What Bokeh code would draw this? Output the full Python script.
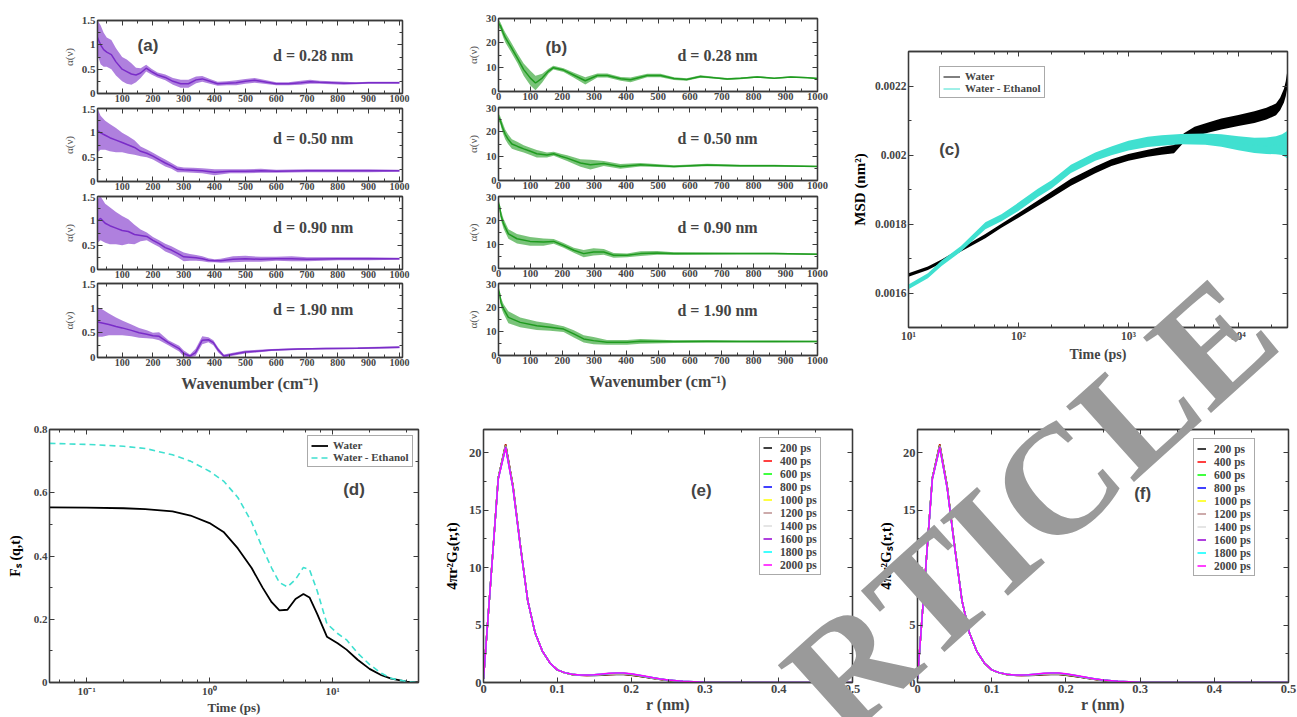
from bokeh.plotting import figure
from bokeh.layouts import row, column
from bokeh.models import (Range1d, LinearAxis, Label, Legend, LegendItem,
                          SingleIntervalTicker, LogTicker,
                          NumeralTickFormatter, CustomJSTickFormatter)
from bokeh.embed import file_html
from bokeh.resources import INLINE

SERIF = "Liberation Serif"
SANS = "Liberation Sans"
FRAME = "#3a3a3a"
PURPLE = "#7a2cc8"
GREEN = "#1f9b1f"
TURQ = "#40e0d0"

# ---------------- panel (a): alpha(nu), water ----------------
a28_x = [20, 30, 40, 50, 65, 80, 100, 115, 130, 145, 160, 178, 195, 215, 240, 265, 290, 315, 340, 360, 385, 410, 440, 470, 500, 530, 560, 600, 640, 680, 710, 740, 780, 820, 860, 900, 950, 1000]
a28_c = [1.15, 1.0, 0.9, 0.85, 0.8, 0.65, 0.5, 0.45, 0.4, 0.38, 0.42, 0.52, 0.45, 0.38, 0.33, 0.25, 0.2, 0.2, 0.28, 0.3, 0.25, 0.2, 0.21, 0.22, 0.25, 0.27, 0.24, 0.2, 0.2, 0.22, 0.24, 0.23, 0.22, 0.21, 0.21, 0.22, 0.22, 0.22]
a28_w = [0.35, 0.4, 0.35, 0.3, 0.3, 0.28, 0.25, 0.25, 0.22, 0.15, 0.1, 0.07, 0.06, 0.05, 0.06, 0.07, 0.08, 0.08, 0.07, 0.06, 0.05, 0.04, 0.04, 0.05, 0.05, 0.05, 0.04, 0.03, 0.03, 0.04, 0.04, 0.03, 0.03, 0.03, 0.02, 0.02, 0.02, 0.02]

a50_x = [20, 30, 45, 60, 80, 100, 120, 140, 160, 180, 200, 220, 240, 260, 280, 300, 330, 360, 400, 450, 500, 550, 600, 700, 800, 900, 1000]
a50_c = [1.05, 1.0, 0.95, 0.9, 0.85, 0.8, 0.75, 0.7, 0.62, 0.58, 0.52, 0.45, 0.38, 0.32, 0.25, 0.24, 0.23, 0.22, 0.19, 0.21, 0.21, 0.22, 0.21, 0.22, 0.22, 0.22, 0.22]
a50_w = [0.45, 0.35, 0.3, 0.28, 0.25, 0.2, 0.18, 0.15, 0.1, 0.08, 0.07, 0.07, 0.07, 0.06, 0.06, 0.05, 0.05, 0.05, 0.06, 0.04, 0.04, 0.04, 0.03, 0.03, 0.03, 0.03, 0.02]

a90_x = [20, 30, 45, 60, 80, 100, 120, 140, 160, 180, 200, 220, 240, 260, 280, 300, 320, 340, 360, 380, 400, 420, 460, 500, 550, 600, 650, 700, 800, 900, 1000]
a90_c = [1.0, 1.05, 0.95, 0.9, 0.85, 0.8, 0.78, 0.72, 0.7, 0.68, 0.6, 0.53, 0.45, 0.4, 0.33, 0.26, 0.25, 0.24, 0.22, 0.19, 0.18, 0.18, 0.21, 0.22, 0.21, 0.22, 0.22, 0.21, 0.22, 0.22, 0.22]
a90_w = [0.45, 0.45, 0.4, 0.38, 0.33, 0.3, 0.25, 0.2, 0.12, 0.08, 0.07, 0.07, 0.08, 0.08, 0.08, 0.09, 0.07, 0.06, 0.05, 0.04, 0.03, 0.04, 0.06, 0.06, 0.05, 0.04, 0.05, 0.04, 0.03, 0.03, 0.02]

a190_x = [20, 35, 57, 80, 100, 130, 155, 180, 200, 220, 250, 285, 300, 320, 338, 360, 380, 396, 412, 430, 455, 500, 585, 670, 760, 865, 1000]
a190_c = [0.72, 0.7, 0.67, 0.63, 0.6, 0.55, 0.5, 0.47, 0.44, 0.43, 0.3, 0.18, 0.08, 0.03, 0.1, 0.35, 0.36, 0.3, 0.15, 0.03, 0.06, 0.11, 0.15, 0.17, 0.18, 0.19, 0.21]
a190_w = [0.3, 0.28, 0.22, 0.18, 0.15, 0.12, 0.1, 0.08, 0.06, 0.08, 0.05, 0.06, 0.06, 0.03, 0.07, 0.08, 0.05, 0.05, 0.05, 0.03, 0.03, 0.03, 0.02, 0.02, 0.02, 0.02, 0.02]

# ---------------- panel (b): alpha(nu), water-ethanol ----------------
b28_x = [0, 6, 15, 22, 38, 60, 79, 100, 116, 137, 157, 172, 204, 235, 272, 310, 341, 383, 414, 466, 508, 550, 590, 633, 675, 717, 759, 811, 864, 916, 969, 1000]
b28_c = [28, 27, 24, 22, 18.5, 13.5, 9, 5.5, 3.5, 5.5, 8.4, 9.8, 8.8, 6.8, 4.4, 6.6, 6.6, 5.2, 4.8, 6.6, 6.6, 5.3, 4.9, 6.2, 5.7, 5.1, 5.4, 6.0, 5.4, 6.0, 5.7, 5.3]
b28_w = [1.5, 1.5, 1.8, 2, 2, 2, 2.5, 3, 3, 1.8, 1, 0.8, 0.8, 1, 1.5, 0.8, 0.8, 0.8, 1, 0.7, 0.7, 0.6, 0.5, 0.5, 0.4, 0.4, 0.4, 0.4, 0.3, 0.3, 0.3, 0.3]

b50_x = [0, 5, 12, 21, 30, 42, 60, 79, 100, 120, 152, 173, 195, 215, 257, 288, 330, 382, 445, 550, 654, 759, 864, 1000]
b50_c = [26, 25, 22, 19, 17, 15, 14, 13, 12, 11, 10.5, 11, 10, 9.2, 7.2, 6.5, 7, 5.8, 6.5, 5.8, 6.4, 6.1, 6.1, 5.8]
b50_w = [1.5, 1.5, 2, 2, 2, 2, 1.8, 1.5, 1.5, 1.5, 1, 0.8, 1, 1.2, 1.5, 2, 1, 1, 0.7, 0.5, 0.5, 0.4, 0.4, 0.3]

b90_x = [0, 3, 8, 16, 31, 58, 99, 141, 173, 204, 236, 267, 298, 330, 361, 403, 445, 497, 550, 654, 759, 864, 1000]
b90_c = [27, 26, 22, 18.6, 14.4, 12.4, 11.3, 11, 11.3, 9.6, 7.6, 6.2, 6.9, 6.9, 5.5, 5.5, 6.2, 6.5, 6.2, 6.2, 6.2, 6.2, 5.9]
b90_w = [1.5, 1.5, 2, 2, 2, 2, 1.8, 1.5, 1, 1, 1, 1.5, 1.5, 1.2, 1, 0.8, 1, 0.8, 0.6, 0.5, 0.4, 0.4, 0.3]

b190_x = [0, 3, 8, 16, 31, 68, 120, 162, 204, 236, 267, 298, 340, 403, 445, 550, 654, 759, 864, 1000]
b190_c = [27, 26, 22, 19.4, 15.9, 13.8, 12.4, 11.8, 11, 9, 6.9, 6.2, 5.5, 5.5, 5.9, 5.8, 5.9, 5.8, 5.8, 5.8]
b190_w = [1.5, 1.5, 2, 2, 2.5, 2, 1.8, 1.5, 1.2, 1.5, 1.5, 1.5, 1, 1, 1, 0.6, 0.5, 0.4, 0.4, 0.3]

d_labels = ["d = 0.28 nm", "d = 0.50 nm", "d = 0.90 nm", "d = 1.90 nm"]

# ---------------- panel (c): MSD ----------------
msd_t_w = [10, 15, 20, 30, 50, 70, 100, 150, 200, 300, 500, 700, 1000, 1500, 2000, 2600, 3200, 4000, 5400, 7000, 10000, 14000, 18000, 22000, 24000, 26000, 27000, 28000]
msd_water = [0.001652, 0.001672, 0.001692, 0.001725, 0.001765, 0.001795, 0.001825, 0.001860, 0.001885, 0.001921, 0.001957, 0.001978, 0.001993, 0.002005, 0.002012, 0.002017, 0.002050, 0.002068, 0.002080, 0.002090, 0.002100, 0.002110, 0.002120, 0.002132, 0.002148, 0.002172, 0.002192, 0.002222]
msd_water_w = [0.000005, 0.000005, 0.000005, 0.000005, 0.000006, 0.000006, 0.000007, 0.000008, 0.000009, 0.00001, 0.00001, 0.00001, 0.00001, 0.00001, 0.000011, 0.000012, 0.000013, 0.000014, 0.000015, 0.000016, 0.000016, 0.000017, 0.000017, 0.000017, 0.000018, 0.00002, 0.000022, 0.000025]

msd_t_e = [10, 15, 20, 30, 50, 70, 100, 150, 200, 300, 500, 700, 1000, 1500, 2000, 3000, 5000, 7000, 10000, 14000, 18000, 22000, 25000, 28000]
msd_eth = [0.001618, 0.001650, 0.001686, 0.001728, 0.001795, 0.001818, 0.001850, 0.001890, 0.001915, 0.001960, 0.001995, 0.002012, 0.002027, 0.002038, 0.002042, 0.002046, 0.002046, 0.002042, 0.002034, 0.002028, 0.002027, 0.002028, 0.002030, 0.002030]
msd_eth_w = [0.000007, 0.000007, 0.000008, 0.000008, 0.00001, 0.00001, 0.000012, 0.000012, 0.000012, 0.000012, 0.000012, 0.000013, 0.000014, 0.000015, 0.000015, 0.000015, 0.000016, 0.000018, 0.00002, 0.000022, 0.000024, 0.000026, 0.00003, 0.00004]

# ---------------- panel (d): Fs(q,t) ----------------
fs_t = [0.05, 0.1, 0.2, 0.3, 0.5, 0.7, 1.0, 1.3, 1.7, 2.2, 2.7, 3.2, 3.7, 4.3, 5.0, 5.8, 6.5, 7.5, 9, 11, 13, 16, 20, 25, 30, 40, 50]
fs_water = [0.554, 0.553, 0.551, 0.548, 0.541, 0.528, 0.504, 0.476, 0.424, 0.362, 0.300, 0.254, 0.228, 0.230, 0.264, 0.280, 0.269, 0.217, 0.145, 0.124, 0.104, 0.072, 0.043, 0.023, 0.012, 0.003, 0.0]
fs_eth = [0.756, 0.753, 0.747, 0.740, 0.720, 0.700, 0.668, 0.637, 0.585, 0.507, 0.424, 0.362, 0.316, 0.302, 0.326, 0.364, 0.357, 0.290, 0.186, 0.155, 0.135, 0.093, 0.057, 0.029, 0.013, 0.003, 0.0]

# ---------------- panels (e), (f): 4 pi r^2 Gs(r,t) ----------------
gs_r = [0, 0.01, 0.02, 0.03, 0.04, 0.05, 0.06, 0.07, 0.08, 0.09, 0.10, 0.11, 0.12, 0.13, 0.14, 0.15, 0.16, 0.17, 0.18, 0.19, 0.20, 0.21, 0.22, 0.23, 0.24, 0.25, 0.27, 0.30, 0.35, 0.40, 0.50]
gs_labels = ["200 ps", "400 ps", "600 ps", "800 ps", "1000 ps", "1200 ps", "1400 ps", "1600 ps", "1800 ps", "2000 ps"]
gs_colors = ["#000000", "#ff0000", "#00ff00", "#0000ff", "#ffff00", "#bc8f8f", "#dcdcdc", "#9400d3", "#00ffff", "#ff00ff"]
gs_200 = [0.3, 9.0, 17.8, 20.7, 17.1, 11.9, 7.1, 4.3, 2.7, 1.7, 1.10, 0.84, 0.69, 0.62, 0.60, 0.61, 0.64, 0.68, 0.70, 0.69, 0.64, 0.55, 0.45, 0.35, 0.26, 0.18, 0.08, 0.02, 0.004, 0.001, 0.0]
gs_400 = [0.3, 9.0, 17.8, 20.7, 17.1, 11.9, 7.1, 4.3, 2.7, 1.7, 1.10, 0.84, 0.70, 0.63, 0.61, 0.62, 0.66, 0.70, 0.72, 0.71, 0.66, 0.57, 0.46, 0.36, 0.27, 0.19, 0.08, 0.02, 0.004, 0.001, 0.0]
gs_600 = [0.3, 9.0, 17.8, 20.6, 17.0, 11.9, 7.1, 4.3, 2.7, 1.7, 1.10, 0.84, 0.70, 0.63, 0.62, 0.63, 0.67, 0.71, 0.74, 0.73, 0.68, 0.58, 0.47, 0.37, 0.28, 0.19, 0.09, 0.02, 0.004, 0.001, 0.0]
gs_800 = [0.3, 9.0, 17.8, 20.6, 17.0, 11.9, 7.1, 4.3, 2.7, 1.7, 1.10, 0.85, 0.71, 0.64, 0.62, 0.64, 0.68, 0.73, 0.75, 0.74, 0.69, 0.60, 0.48, 0.38, 0.28, 0.20, 0.09, 0.02, 0.004, 0.001, 0.0]
gs_1000 = [0.3, 9.0, 17.8, 20.6, 17.0, 11.9, 7.1, 4.3, 2.7, 1.7, 1.10, 0.85, 0.71, 0.64, 0.63, 0.65, 0.69, 0.74, 0.77, 0.76, 0.70, 0.61, 0.49, 0.39, 0.29, 0.20, 0.09, 0.02, 0.004, 0.001, 0.0]
gs_1200 = [0.3, 9.0, 17.7, 20.5, 17.0, 11.8, 7.1, 4.3, 2.7, 1.7, 1.10, 0.85, 0.71, 0.65, 0.63, 0.66, 0.70, 0.76, 0.78, 0.77, 0.72, 0.62, 0.50, 0.40, 0.29, 0.21, 0.09, 0.03, 0.005, 0.001, 0.0]
gs_1400 = [0.3, 9.0, 17.7, 20.5, 16.9, 11.8, 7.1, 4.3, 2.7, 1.7, 1.10, 0.85, 0.72, 0.65, 0.64, 0.66, 0.71, 0.77, 0.79, 0.78, 0.73, 0.63, 0.51, 0.40, 0.30, 0.21, 0.10, 0.03, 0.005, 0.001, 0.0]
gs_1600 = [0.3, 9.0, 17.7, 20.5, 16.9, 11.8, 7.1, 4.3, 2.7, 1.7, 1.10, 0.86, 0.72, 0.65, 0.64, 0.67, 0.72, 0.78, 0.81, 0.80, 0.74, 0.64, 0.52, 0.41, 0.30, 0.21, 0.10, 0.03, 0.005, 0.001, 0.0]
gs_1800 = [0.3, 9.0, 17.7, 20.4, 16.9, 11.8, 7.1, 4.3, 2.7, 1.7, 1.10, 0.86, 0.72, 0.66, 0.65, 0.67, 0.73, 0.79, 0.82, 0.81, 0.75, 0.65, 0.53, 0.42, 0.31, 0.22, 0.10, 0.03, 0.005, 0.001, 0.0]
gs_2000 = [0.3, 9.0, 17.7, 20.4, 16.9, 11.8, 7.1, 4.3, 2.7, 1.7, 1.10, 0.86, 0.72, 0.66, 0.65, 0.68, 0.74, 0.80, 0.83, 0.82, 0.76, 0.66, 0.54, 0.42, 0.31, 0.22, 0.10, 0.03, 0.005, 0.001, 0.0]
gs_series = [gs_200, gs_400, gs_600, gs_800, gs_1000, gs_1200, gs_1400, gs_1600, gs_1800, gs_2000]

# ---------------- watermark (page pixel geometry, one letter each) ----------------
WM_LETTERS = ["R", "T", "I", "C", "L", "E"]
WM_CX = [850, 930, 991, 1055, 1135, 1212]
WM_CY = [666, 594, 540, 482, 410, 341]
WM_SIZE = 155
WM_ANGLE = 42
WM_LEFT, WM_TOP, WM_W, WM_H = 640, 200, 657, 517


def make(w, h, xr, yr, l, r, t, b, x_log=False):
    p = figure(width=w, height=h, x_range=Range1d(*xr), y_range=Range1d(*yr),
               x_axis_type="log" if x_log else "linear",
               output_backend="svg", toolbar_location=None,
               min_border_left=l, min_border_right=r, min_border_top=t, min_border_bottom=b)
    p.grid.visible = False
    p.outline_line_color = FRAME
    p.outline_line_width = 1.3
    p.background_fill_color = "white"
    p.border_fill_color = "white"
    return p


def tick_style(ax, size, standoff=2):
    ax.major_label_text_font = SERIF
    ax.major_label_text_font_style = "bold"
    ax.major_label_text_font_size = size
    ax.major_label_standoff = standoff
    ax.major_tick_in = 5
    ax.major_tick_out = 0
    ax.minor_tick_in = 3
    ax.minor_tick_out = 0
    ax.axis_line_color = FRAME
    ax.axis_line_width = 1.3
    ax.major_tick_line_color = FRAME
    ax.minor_tick_line_color = FRAME


def dress(p, xticker, yticker, xfmt, yfmt, xsize, ysize, xlabel=None, ylabel=None,
          xlab_size="16px", ylab_size="15px", ylab_color="black", ylab_bold=True,
          xlab_standoff=4, ylab_standoff=6, xstand=2):
    xa, ya = p.xaxis[0], p.yaxis[0]
    xa.ticker = xticker
    ya.ticker = yticker
    xa.formatter = xfmt
    ya.formatter = yfmt
    tick_style(xa, xsize, xstand)
    tick_style(ya, ysize)
    if xlabel:
        xa.axis_label = xlabel
        xa.axis_label_text_font = SERIF
        xa.axis_label_text_font_style = "bold"
        xa.axis_label_text_font_size = xlab_size
        xa.axis_label_standoff = xlab_standoff
    if ylabel:
        ya.axis_label = ylabel
        ya.axis_label_text_font = SERIF
        ya.axis_label_text_font_style = "bold" if ylab_bold else "normal"
        ya.axis_label_text_font_size = ylab_size
        ya.axis_label_text_color = ylab_color
        ya.axis_label_standoff = ylab_standoff
    for loc, tk in (("above", xticker), ("right", yticker)):
        ax = LinearAxis(ticker=tk, major_label_text_alpha=0.0)
        tick_style(ax, "1px", 0)
        p.add_layout(ax, loc)


def band(p, xs, c, w, color, alpha=0.6, lw=1.5):
    lo = [ci - wi for ci, wi in zip(c, w)]
    hi = [ci + wi for ci, wi in zip(c, w)]
    p.varea(x=xs, y1=lo, y2=hi, fill_color=color, fill_alpha=alpha)
    return p.line(xs, c, line_color=color, line_width=lw)


def panel_label(p, x, y, text):
    p.add_layout(Label(x=x, y=y, text=text, text_font=SANS, text_font_style="bold",
                       text_font_size="17px", text_baseline="middle", text_align="left"))


def d_label(p, x, y, text):
    p.add_layout(Label(x=x, y=y, text=text, text_font=SERIF, text_font_style="bold",
                       text_font_size="16px", text_baseline="middle", text_align="left"))


log_fmt = CustomJSTickFormatter(code="""
const sup = {"-": "\u207b", "0": "\u2070", "1": "\u00b9", "2": "\u00b2", "3": "\u00b3",
             "4": "\u2074", "5": "\u2075", "6": "\u2076", "7": "\u2077", "8": "\u2078", "9": "\u2079"};
const e = Math.round(Math.log10(tick));
return "10" + String(e).split("").map(c => sup[c]).join("");
""")

# ---------------- build (a) ----------------
a_series = [(a28_x, a28_c, a28_w), (a50_x, a50_c, a50_w), (a90_x, a90_c, a90_w), (a190_x, a190_c, a190_w)]
a_geom = [(105, 20, 12), (88, 3, 12), (87, 3, 11), (122, 3, 45)]
a_dy = [0.78, 0.88, 0.86, 0.97]
col_a = []
for i, ((xs, c, w), (h, t, b)) in enumerate(zip(a_series, a_geom)):
    p = make(440, h, (20, 1010), (0, 1.5), 97, 38, t, b)
    band(p, xs, c, w, PURPLE, alpha=0.6)
    dress(p, SingleIntervalTicker(interval=100, num_minor_ticks=2),
          SingleIntervalTicker(interval=0.5, num_minor_ticks=2),
          NumeralTickFormatter(format="0"), NumeralTickFormatter(format="0.[0]"),
          "10px", "11px",
          xlabel="Wavenumber (cm\u207b\u00b9)" if i == 3 else None,
          ylabel="\u03b1(\u03bd)", ylab_size="11px", ylab_color="#555555", ylab_bold=False,
          ylab_standoff=4, xlab_standoff=6, xstand=1)
    d_label(p, 590, a_dy[i], d_labels[i])
    if i == 0:
        panel_label(p, 150, 0.99, "(a)")
    col_a.append(p)

# ---------------- build (b) ----------------
b_series = [(b28_x, b28_c, b28_w), (b50_x, b50_c, b50_w), (b90_x, b90_c, b90_w), (b190_x, b190_c, b190_w)]
b_geom = [(104, 18, 13), (89, 3, 13), (87, 3, 12), (122, 3, 47)]
b_dy = [14.8, 17.3, 17.1, 18.75]
col_b = []
for i, ((xs, c, w), (h, t, b)) in enumerate(zip(b_series, b_geom)):
    p = make(397, h, (0, 1000), (0, 30), 58, 20, t, b)
    band(p, xs, c, w, GREEN, alpha=0.6)
    dress(p, SingleIntervalTicker(interval=100, num_minor_ticks=2),
          SingleIntervalTicker(interval=10, num_minor_ticks=2),
          NumeralTickFormatter(format="0"), NumeralTickFormatter(format="0"),
          "10.5px", "10.5px",
          xlabel="Wavenumber (cm\u207b\u00b9)" if i == 3 else None,
          ylabel="\u03b1(\u03bd)", ylab_size="11px", ylab_color="#555555", ylab_bold=False,
          ylab_standoff=4, xlab_standoff=6, xstand=1)
    d_label(p, 561, b_dy[i], d_labels[i])
    if i == 0:
        panel_label(p, 147, 18.1, "(b)")
    col_b.append(p)

# ---------------- build (c) ----------------
pc = make(460, 402, (10, 28000), (0.0015, 0.0023), 71, 10, 51, 75, x_log=True)
rw = band(pc, msd_t_w, msd_water, msd_water_w, "#000000", alpha=1.0, lw=1.0)
re = band(pc, msd_t_e, msd_eth, msd_eth_w, TURQ, alpha=1.0, lw=1.0)
dress(pc, LogTicker(), SingleIntervalTicker(interval=0.0002, num_minor_ticks=2),
      log_fmt, NumeralTickFormatter(format="0.[0000]"), "11.5px", "11.5px",
      xlabel="Time (ps)", ylabel="MSD (nm\u00b2)", xlab_size="14px", ylab_size="15px",
      xlab_standoff=2, ylab_standoff=4)
panel_label(pc, 19, 0.002016, "(c)")
leg_c = Legend(items=[LegendItem(label="Water", renderers=[rw]),
                      LegendItem(label="Water - Ethanol", renderers=[re])],
               location=(31, 229))
pc.add_layout(leg_c)

# ---------------- build (d) ----------------
pd_ = make(440, 315, (0.05, 50), (0, 0.8), 49, 22, 27, 30, x_log=True)
ld1 = pd_.line(fs_t, fs_water, line_color="black", line_width=1.8)
ld2 = pd_.line(fs_t, fs_eth, line_color=TURQ, line_width=1.6, line_dash="6 4")
dress(pd_, LogTicker(), SingleIntervalTicker(interval=0.2, num_minor_ticks=2),
      log_fmt, NumeralTickFormatter(format="0.[0]"), "11px", "11px",
      xlabel="Time (ps)", ylabel="F\u209b (q,t)", xlab_size="13px", ylab_size="14px",
      xlab_standoff=0, ylab_standoff=8)
panel_label(pd_, 12.2, 0.611, "(d)")
leg_d = Legend(items=[LegendItem(label="Water", renderers=[ld1]),
                      LegendItem(label="Water - Ethanol", renderers=[ld2])],
               location=(258, 215))
pd_.add_layout(leg_d)


def gs_panel(w, h, l, r, t, b, lab_xy, lab, loc):
    p = make(w, h, (0, 0.5), (0, 22), l, r, t, b)
    items = []
    for s, col, name in zip(gs_series, gs_colors, gs_labels):
        rr = p.line(gs_r, s, line_color=col, line_width=1.5)
        items.append(LegendItem(label=name, renderers=[rr]))
    dress(p, SingleIntervalTicker(interval=0.1, num_minor_ticks=2),
          SingleIntervalTicker(interval=5, num_minor_ticks=2),
          NumeralTickFormatter(format="0.[0]"), NumeralTickFormatter(format="0"),
          "12.5px", "12.5px", xlabel="r (nm)", ylabel="4\u03c0r\u00b2G\u209b(r,t)",
          xlab_size="16px", ylab_size="15px", xlab_standoff=0, ylab_standoff=6)
    panel_label(p, lab_xy[0], lab_xy[1], lab)
    leg = Legend(items=items, location=loc)
    p.add_layout(leg)
    return p, leg


pe, leg_e = gs_panel(430, 315, 39, 18, 26, 30, (0.281, 16.7), "(e)", (276, 107))
pf, leg_f = gs_panel(427, 315, 47, 9, 21, 35, (0.292, 16.4), "(f)", (276, 106))

for leg, gw, size, lh, pad, stand in ((leg_c, 17, "11px", 11, 3, 5), (leg_d, 17, "11px", 11, 3, 5),
                                      (leg_e, 9, "11.5px", 13, 3, 8), (leg_f, 9, "11.5px", 13, 3, 8)):
    leg.label_text_font = SERIF
    leg.label_text_font_style = "bold"
    leg.label_text_font_size = size
    leg.label_height = lh
    leg.glyph_height = lh
    leg.glyph_width = gw
    leg.label_standoff = stand
    leg.padding = pad
    leg.spacing = 0
    leg.margin = 0
    leg.border_line_color = "#555555"
    leg.border_line_width = 1.2
    leg.background_fill_alpha = 1.0

# ---------------- watermark overlay (transparent figure, absolutely placed) ----------------
wm = figure(width=WM_W, height=WM_H, x_range=Range1d(0, 1), y_range=Range1d(0, 1),
            x_axis_location=None, y_axis_location=None, toolbar_location=None,
            output_backend="svg", min_border=0,
            styles={"position": "absolute", "left": f"{WM_LEFT}px", "top": f"{WM_TOP}px",
                    "z-index": "20", "pointer-events": "none"})
wm.grid.visible = False
wm.outline_line_color = None
wm.background_fill_color = None
wm.border_fill_color = None
for ch, cx, cy in zip(WM_LETTERS, WM_CX, WM_CY):
    wm.add_layout(Label(x=cx - WM_LEFT, y=(WM_TOP + WM_H) - cy, x_units="screen", y_units="screen",
                        text=ch, angle=WM_ANGLE, angle_units="deg", text_font=SERIF,
                        text_font_style="bold", text_font_size=f"{WM_SIZE}px",
                        text_color="#9a9a9a", text_align="center", text_baseline="middle"))

layout = column(row(column(*col_a), column(*col_b), pc), row(pd_, pe, pf), wm)
open("out.html", "w").write(file_html(layout, INLINE))
